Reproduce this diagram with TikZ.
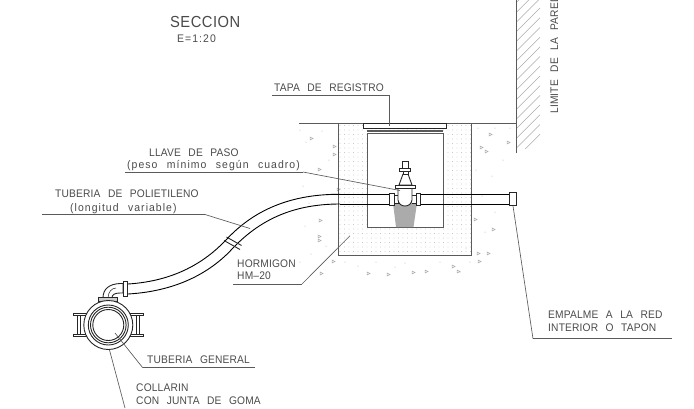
\documentclass[tikz,border=0pt]{standalone}
\usepackage{fontspec}
\newfontfamily\labfont[WordSpace=2.5,LetterSpace=1.5,FakeStretch=0.93]{Liberation Sans}
\newfontfamily\lowfont[WordSpace=2.4,LetterSpace=9.5,FakeStretch=0.95]{Liberation Sans}
\newfontfamily\bigfont[LetterSpace=3,FakeStretch=0.92]{Liberation Sans}
\definecolor{txt}{HTML}{4A4A4A}
\definecolor{ln}{HTML}{5A5A5A}
\definecolor{pale}{HTML}{ABABAB}
\tikzset{
  lab/.style={anchor=base west,inner sep=0pt,text=txt,font=\labfont\fontsize{11}{13}\selectfont},
  lowlab/.style={lab,font=\lowfont\fontsize{11}{13}\selectfont},
  struct/.style={draw=ln,line width=0.9pt},
  leader/.style={draw=ln,line width=0.65pt},
  under/.style={draw=ln,line width=0.9pt},
  pipe/.style={draw=black,line width=0.9pt},
  part/.style={draw=black!85,line width=0.9pt,fill=white},
  hatchline/.style={draw=pale,line width=0.55pt},
  aggr/.style={draw=pale,line width=0.5pt}
}
\begin{document}
\begin{tikzpicture}[x=1pt,y=-1pt]
\useasboundingbox (0,0) rectangle (694,408);
% stipple of the concrete
\begin{scope}[even odd rule]
\clip (339,124) rectangle (471,255) (367,133) rectangle (443,227);
\foreach \i in {0,...,29}{\foreach \j in {0,...,29}{
  \fill[pale] ({340+\i*4.5},{125.5+\j*4.5}) circle (0.45);
}}
\end{scope}
% aggregate in the ground
\foreach \a/\b in {310/137,333/145,333/153,318/168,337/188,319/219,318/235,318/239,332/260,320/272,367/272,387/273,412/271,425/270,452/265,457/270,477/252,487/252,478/260,492/228,474/218,485/150,480/146,489/133,507/141}{
  \draw[aggr] (\a,\b) -- ++(3,1.5) -- ++(-3,1.5) -- cycle;
}
\foreach \a/\b in {300/130,306/142,322/131,329/160,326/176,303/186,309/203,331/205,305/226,326/246,311/254,345/262,358/266,376/262,395/267,405/263,440/262,470/262,466/248,485/232,495/212,482/196,492/176,476/170,503/160,495/128,510/128,478/128,300/262,460/272}{
  \fill[pale] (\a,\b) circle (0.5);
}
% wall hatch
\begin{scope}
\clip (517,0) rectangle (540,148);
\foreach \k in {0,...,16}{
  \draw[hatchline] (517,{-10+\k*9.7+12}) -- ++(23,-23);
}
\end{scope}
% ground and wall
\draw[struct] (299,123.3) -- (516.7,123.3);
\draw[struct] (516.7,0) -- (516.7,153);
% concrete block and chamber
\draw[struct] (338.7,123.3) -- (338.7,255.7) -- (471.7,255.7) -- (471.7,123.3);
\draw[struct] (367.3,133) -- (367.3,227.3) -- (443,227.3) -- (443,133);
% lid
\draw[part,line width=1.1pt] (363.3,123.3) rectangle (446.7,128.3);
\draw[draw=ln,line width=1.6pt] (367.3,130.8) -- (443,130.8);
\draw[draw=ln,line width=0.7pt] (367.3,133.5) -- (443,133.5);
% gray base under the valve
\fill[pale] (393,203) -- (396,227) -- (413.5,227) -- (417,203) -- cycle;
% straight pipe
\draw[pipe] (340,194.3) -- (389.5,194.3) (340,204) -- (389.5,204);
\draw[pipe] (420.5,194.3) -- (509.3,194.3) (420.5,204) -- (509.3,204);
% polyethylene pipe
\draw[pipe] (128,284) .. controls (175,281) and (205,262) .. (226,240) .. controls (250,214) and (285,194) .. (340,194.3);
\draw[pipe] (128,294) .. controls (180,291) and (213,270) .. (233,248) .. controls (258,222) and (290,204) .. (340,204);
\draw[part] (224,240.5) -- (240,249.5) (226.5,237) -- (241.5,245.5);
% end coupling
\draw[part] (509.3,192.7) rectangle (516.7,205.7);
% valve
\draw[part] (394,195.5) -- (398,195.5) -- (398,203) -- (394,203);
\draw[part] (412,195.5) -- (416,195.5) -- (416,203) -- (412,203);
\draw[part] (389.3,193) rectangle (394,205.5);
\draw[part] (416,193) rectangle (420.7,205.5);
\draw[part] (398,187.5) -- (398,200) .. controls (399,208) and (411,208) .. (412,200) -- (412,187.5);
\draw[part] (399,185) -- (403,174) -- (408,174) -- (412,185) -- cycle;
\draw[part] (395,185.5) rectangle (415.5,188);
\draw[part] (402.7,161.7) rectangle (408,168);
\draw[part,line width=1pt] (399.5,168.2) rectangle (410.8,171.5);
\draw[part] (403,171.5) rectangle (408,174);
% elbow
\draw[part] (103,298) .. controls (103,289) and (109,284) .. (120,283.5) -- (123,283.5) -- (123,293) -- (120,293) .. controls (114,293) and (112,295) .. (112,298) -- cycle;
\draw[draw=black!85,line width=0.5pt] (108,298) .. controls (108,292) and (112,288) .. (116,288);
\draw[part] (123,281) rectangle (127.3,296);
\draw[part,fill=black!20] (98.5,297.5) rectangle (117,301.5);
% collar lugs
\foreach \s in {-1,1}{
  \begin{scope}[shift={(108.3,325)},xscale=\s]
    \draw[part] (24,-9.5) -- (31,-9.5) -- (31,9.5) -- (24,9.5);
    \draw[part] (28,-9.5) -- (28,9.5);
    \draw[part,line width=1pt] (22,-11.8) rectangle (35,-9.5);
    \draw[part,line width=1pt] (22,9.5) rectangle (35,11.8);
  \end{scope}
}
% collar and main pipe
\draw[part] (108.3,325) circle (24.5);
\draw[part] (108.3,325) circle (20);
\draw[part] (108.3,325) circle (17.8);
\draw[part] (108.3,325) circle (15.5);
% texts
\node[lab,font=\bigfont\fontsize{16}{18}\selectfont] (secc) at (170,27) {SECCION};
\node[lowlab] (esc) at (177,42.3) {E=1:20};
\node[lab] (tapa) at (274,91) {TAPA DE REGISTRO};
\node[lab] (llave) at (149,156) {LLAVE DE PASO};
\node[lowlab] (peso) at (127,168) {(peso mínimo según cuadro)};
\node[lab] (tub) at (55,197) {TUBERIA DE POLIETILENO};
\node[lowlab] (lon) at (70,211.5) {(longitud variable)};
\node[lab] (hor) at (237,267) {HORMIGON};
\node[lab] (hm) at (237,279.5) {HM–20};
\node[lab] (emp) at (548,318) {EMPALME A LA RED};
\node[lab] (int) at (548,331) {INTERIOR O TAPON};
\node[lab] (gen) at (147,363) {TUBERIA GENERAL};
\node[lab] (col) at (136,391.5) {COLLARIN};
\node[lab] (con) at (136,404) {CON JUNTA DE GOMA};
\node[lab,rotate=90] (lim) at (558,114) {LIMITE DE LA PARED};
% leaders
\coordinate (a1) at (272,95); \coordinate (a2) at (389,95); \coordinate (a3) at (389,125.5);
\draw[under] (a1) -- (a2); \draw[leader] (a2) -- (a3);
\coordinate (b1) at (125,172); \coordinate (b2) at (303,172); \coordinate (b3) at (400,190.5);
\draw[under] (b1) -- (b2); \draw[leader] (b2) -- (b3);
\coordinate (c1) at (42,214.5); \coordinate (c2) at (205,214.5); \coordinate (c3) at (250,228.5);
\draw[under] (c1) -- (c2); \draw[leader] (c2) -- (c3);
\coordinate (d1) at (233,284); \coordinate (d2) at (302,284); \coordinate (d3) at (350,235.7);
\draw[under] (d1) -- (d2); \draw[leader] (d2) -- (d3);
\coordinate (e1) at (672,338.7); \coordinate (e2) at (533,338.7); \coordinate (e3) at (513,206);
\draw[under] (e1) -- (e2); \draw[leader] (e2) -- (e3);
\coordinate (f1) at (255,367.7); \coordinate (f2) at (142.7,367.7); \coordinate (f3) at (115,333);
\draw[under] (f1) -- (f2); \draw[leader] (f2) -- (f3);
\coordinate (g1) at (109.5,350); \coordinate (g2) at (125,408);
\draw[leader] (g1) -- (g2);
\end{tikzpicture}
\end{document}
